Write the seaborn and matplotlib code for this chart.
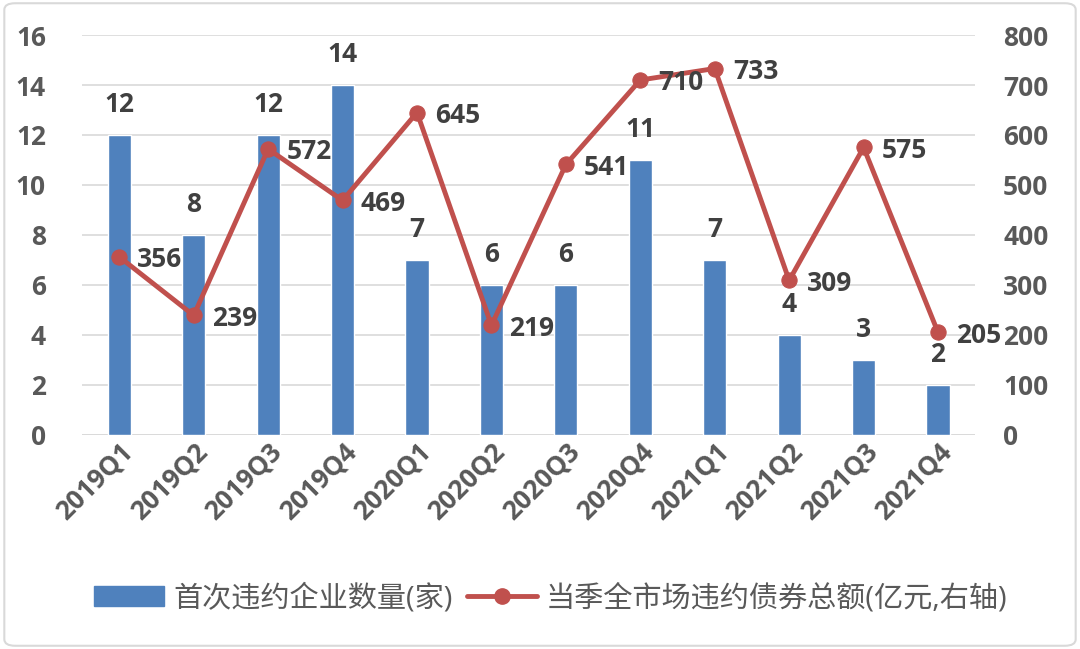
import matplotlib
matplotlib.use("Agg")
import matplotlib.pyplot as plt
import seaborn as sns
import pandas as pd
import numpy as np
from matplotlib.patches import FancyBboxPatch
from matplotlib.lines import Line2D
from matplotlib.patches import Patch

quarters = ["2019Q1", "2019Q2", "2019Q3", "2019Q4", "2020Q1", "2020Q2",
            "2020Q3", "2020Q4", "2021Q1", "2021Q2", "2021Q3", "2021Q4"]
firms = [12, 8, 12, 14, 7, 6, 6, 11, 7, 4, 3, 2]
amount = [356, 239, 572, 469, 645, 219, 541, 710, 733, 309, 575, 205]
bar_name = "首次违约企业数量(家)"
line_name = "当季全市场违约债券总额(亿元,右轴)"

sns.set_theme(style="white")
plt.rcParams['font.family'] = ['Open Sans', 'Noto Sans CJK SC', 'DejaVu Sans']

BLUE = "#4F81BD"
RED = "#C0504D"
TICK = "#595959"
LAB = "#404040"
FS = 19

df = pd.DataFrame({"quarter": quarters, "firms": firms, "amount": amount})

fig = plt.figure(figsize=(10.8, 6.49), dpi=100)
ax = fig.add_axes([0.076, 0.33, 0.827, 0.616])

sns.barplot(data=df, x="quarter", y="firms", color=BLUE, width=0.31,
            saturation=1, ax=ax, zorder=2)
ax.set_ylim(0, 16)
ax.set_yticks(range(0, 17, 2))
ax.yaxis.grid(True, color="#D9D9D9", linewidth=1.2, zorder=0)
ax.set_axisbelow(True)
for s in ax.spines.values():
    s.set_visible(False)
ax.set_xlabel("")
ax.set_ylabel("")
ax.tick_params(axis="y", length=0, labelsize=FS, labelcolor=TICK, pad=26)
ax.tick_params(axis="x", length=0, labelsize=FS, labelcolor=TICK, pad=2)
for t in ax.get_yticklabels():
    t.set_fontweight("bold")
ax.set_xticks(range(len(quarters)))
ax.set_xticklabels(quarters, rotation=45, ha="right", rotation_mode="anchor",
                   fontweight="bold")
ax.axhline(0, color="#D9D9D9", linewidth=1.2, zorder=1)

for i, v in enumerate(firms):
    ax.annotate(str(v), (i, v), xytext=(0, 12), textcoords="offset points",
                ha="center", va="bottom", fontsize=FS, fontweight="bold",
                color=LAB)

ax2 = ax.twinx()
sns.lineplot(data=df, x="quarter", y="amount", color=RED, linewidth=3.5,
             marker="o", markersize=11, markeredgecolor=RED, ax=ax2,
             sort=False, zorder=3)
ax2.set_ylim(0, 800)
ax2.set_yticks(range(0, 801, 100))
for s in ax2.spines.values():
    s.set_visible(False)
ax2.set_ylabel("")
ax2.set_xlabel("")
ax2.tick_params(axis="y", length=0, labelsize=FS, labelcolor=TICK, pad=20)
for t in ax2.get_yticklabels():
    t.set_fontweight("bold")
ax2.grid(False)
for i, v in enumerate(amount):
    ax2.annotate(str(v), (i, v), xytext=(13, -2), textcoords="offset points",
                 ha="left", va="center", fontsize=FS, fontweight="bold",
                 color=LAB)
ax.set_xlim(-0.5, len(quarters) - 0.5)

handles = [Patch(facecolor=BLUE, edgecolor=BLUE),
           Line2D([0], [0], color=RED, linewidth=3.5, marker="o",
                  markersize=11)]
fig.legend(handles, [bar_name, line_name], loc="center",
           bbox_to_anchor=(0.51, 0.078), ncol=2, frameon=False,
           fontsize=21, labelcolor=TICK, handlelength=2.4,
           columnspacing=0.5, handletextpad=0.3)

fig.patches.append(FancyBboxPatch((0.004, 0.005), 0.992, 0.99,
                                  boxstyle="round,pad=0,rounding_size=0.01",
                                  transform=fig.transFigure, fill=False,
                                  edgecolor="#D9D9D9", linewidth=1.5))

fig.savefig("out.png", dpi=100)
